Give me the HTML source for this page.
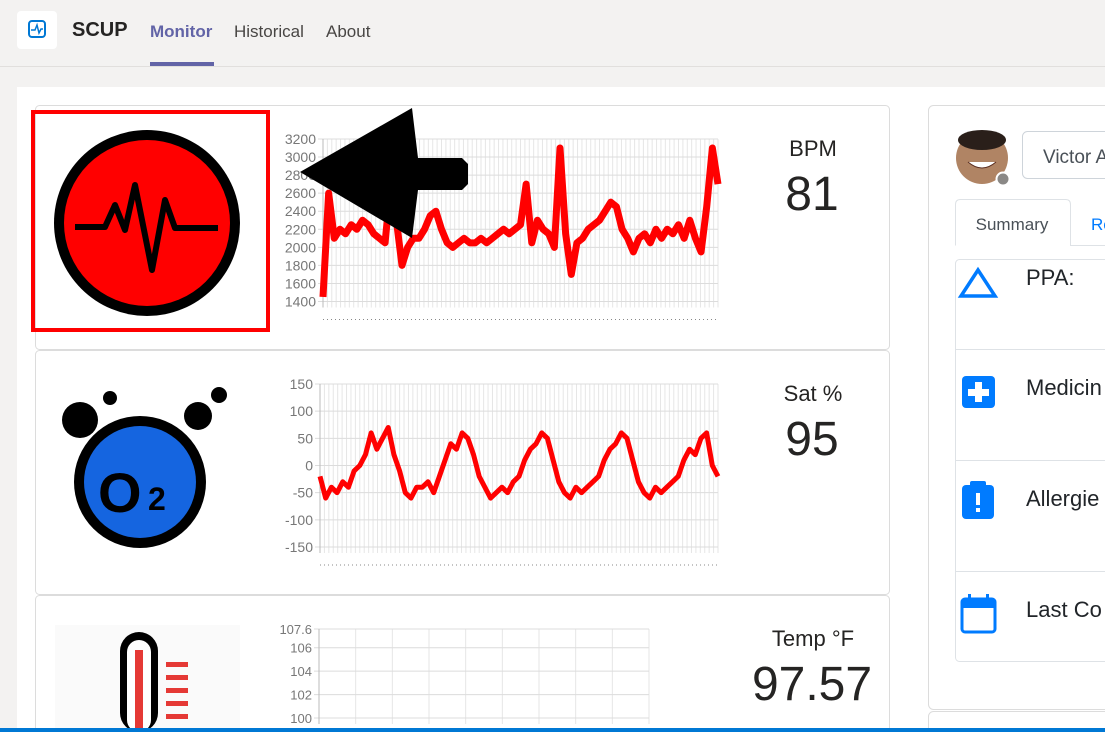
<!DOCTYPE html>
<html><head><meta charset="utf-8"><style>
html,body{margin:0;padding:0;width:1105px;height:732px;overflow:hidden;background:#f3f2f1;font-family:"Liberation Sans",sans-serif}
svg{display:block}
</style></head><body>
<svg id="s" width="1105" height="732" viewBox="0 0 1105 732" xmlns="http://www.w3.org/2000/svg" font-family="Liberation Sans, sans-serif">
<g>
<rect x="0" y="0" width="1105" height="66" fill="#f3f2f1"/>
<line x1="0" y1="66.5" x2="1105" y2="66.5" stroke="#e1dfdd"/>
<rect x="17" y="11" width="40" height="38" rx="4" fill="#fff"/>
<rect x="29" y="21" width="16" height="16" rx="3" fill="none" stroke="#0078d4" stroke-width="2"/>
<polyline points="31,30 35,30 37,25 39,33 41,29 43,29" fill="none" stroke="#0078d4" stroke-width="1.5"/>
<text x="72" y="36" font-size="20" font-weight="bold" fill="#252423">SCUP</text>
<text x="150" y="37" font-size="17" font-weight="bold" fill="#6264a7">Monitor</text>
<rect x="150" y="62" width="64" height="4" fill="#6264a7"/>
<text x="234" y="37" font-size="17" fill="#484644">Historical</text>
<text x="326" y="37" font-size="17" fill="#484644">About</text>
</g>
<rect x="17" y="87" width="1088" height="645" fill="#fff"/>
<rect x="35.5" y="105.5" width="854" height="244" rx="4" fill="#fff" stroke="#dcdcdc"/>
<rect x="35.5" y="350.5" width="854" height="244" rx="4" fill="#fff" stroke="#dcdcdc"/>
<rect x="35.5" y="595.5" width="854" height="150" rx="4" fill="#fff" stroke="#dcdcdc"/>
<g>
<circle cx="147" cy="223" r="93" fill="#000"/>
<circle cx="147" cy="223" r="83" fill="#ff0000"/>
<polyline points="75,227 105,227 115,205 125,230 135,185 152,270 165,200 175,228 218,228" fill="none" stroke="#000" stroke-width="6" stroke-linejoin="round"/>
</g>
<rect x="33" y="112" width="235" height="218" fill="none" stroke="#ff0000" stroke-width="4"/>
<g>
<circle cx="140" cy="482" r="66" fill="#000"/>
<circle cx="140" cy="482" r="56" fill="#1565e0"/>
<circle cx="80" cy="420" r="18" fill="#000"/><circle cx="110" cy="398" r="7" fill="#000"/>
<circle cx="198" cy="416" r="14" fill="#000"/><circle cx="219" cy="395" r="8" fill="#000"/>
<text x="98" y="512" font-size="56" font-weight="bold" fill="#000">O</text>
<text x="148" y="510" font-size="32" font-weight="bold" fill="#000">2</text>
</g>
<g>
<rect x="55" y="625" width="185" height="105" fill="#fafafa"/>
<rect x="120" y="632" width="38" height="100" rx="19" fill="#000"/>
<rect x="127" y="640" width="24" height="92" rx="12" fill="#fff"/>
<rect x="135" y="650" width="8" height="82" fill="#e53935"/>
<rect x="166" y="662" width="22" height="5" fill="#e53935"/><rect x="166" y="675" width="22" height="5" fill="#e53935"/><rect x="166" y="688" width="22" height="5" fill="#e53935"/><rect x="166" y="701" width="22" height="5" fill="#e53935"/><rect x="166" y="714" width="22" height="5" fill="#e53935"/>
</g>
<g id="charts"></g>
<g>
<polygon points="300,172 412,108 418,158 462,158 468,164 468,184 462,190 418,190 412,238" fill="#000"/>
</g>
<text x="813" y="156" font-size="22" fill="#252423" text-anchor="middle">BPM</text>
<text x="812" y="210" font-size="48" fill="#252423" text-anchor="middle">81</text>
<text x="813" y="401" font-size="22" fill="#252423" text-anchor="middle">Sat %</text>
<text x="812" y="455" font-size="48" fill="#252423" text-anchor="middle">95</text>
<text x="813" y="646" font-size="22" fill="#252423" text-anchor="middle">Temp °F</text>
<text x="812" y="700" font-size="48" fill="#252423" text-anchor="middle">97.57</text>
<g>
<rect x="928.5" y="105.5" width="190" height="604" rx="5" fill="#fff" stroke="#dcdcdc"/>
<rect x="928.5" y="711.5" width="190" height="30" rx="5" fill="#fff" stroke="#dcdcdc"/>
<circle cx="982" cy="158" r="26" fill="#b08464"/>
<ellipse cx="982" cy="140" rx="24" ry="10" fill="#2a1f1a"/>
<path d="M968,162 Q982,174 996,162" fill="#fff" stroke="#5a2e20"/>
<circle cx="1003" cy="179" r="6.5" fill="#8a8886" stroke="#fff" stroke-width="2"/>
<rect x="1022.5" y="131.5" width="100" height="47" rx="5" fill="#fff" stroke="#ced4da"/>
<text x="1043" y="163" font-size="19" fill="#495057">Victor A</text>
<path d="M955.5,245.5 V204.5 Q955.5,199.5 960.5,199.5 H1065.5 Q1070.5,199.5 1070.5,204.5 V245.5 H1105" fill="#fff" stroke="#dee2e6"/>
<text x="1012" y="230" font-size="17" fill="#495057" text-anchor="middle">Summary</text>
<text x="1091" y="230" font-size="17" fill="#007bff">Re</text>
<rect x="955.5" y="259.5" width="160" height="402" rx="4" fill="#fff" stroke="#dee2e6"/>
<line x1="956" y1="349.5" x2="1105" y2="349.5" stroke="#dee2e6"/>
<line x1="956" y1="460.5" x2="1105" y2="460.5" stroke="#dee2e6"/>
<line x1="956" y1="571.5" x2="1105" y2="571.5" stroke="#dee2e6"/>
<polygon points="978,270 995,296 961,296" fill="none" stroke="#007bff" stroke-width="3.5"/>
<text x="1026" y="285" font-size="22" fill="#212529">PPA:</text>
<rect x="962" y="376" width="33" height="32" rx="4" fill="#007bff"/>
<rect x="975" y="382" width="7" height="20" fill="#fff"/><rect x="968" y="389" width="21" height="7" fill="#fff"/>
<text x="1026" y="395" font-size="22" fill="#212529">Medicin</text>
<rect x="962" y="485" width="32" height="34" rx="4" fill="#007bff"/>
<rect x="970" y="481" width="16" height="7" rx="2" fill="#007bff"/>
<rect x="976" y="493" width="4" height="12" fill="#fff"/><rect x="976" y="508" width="4" height="4" fill="#fff"/>
<text x="1026" y="506" font-size="22" fill="#212529">Allergie</text>
<rect x="962" y="599" width="33" height="33" rx="3" fill="none" stroke="#007bff" stroke-width="3"/>
<rect x="962" y="599" width="33" height="9" fill="#007bff"/>
<rect x="968" y="594" width="3" height="8" fill="#007bff"/><rect x="986" y="594" width="3" height="8" fill="#007bff"/>
<text x="1026" y="617" font-size="22" fill="#212529">Last Co</text>
</g>
<rect x="0" y="728" width="1105" height="4" fill="#0078d4"/>
</svg>
<script>
const bpmValues=[1450,2600,2100,2200,2150,2250,2200,2300,2250,2150,2100,2050,2700,2300,1800,2000,2100,2100,2200,2350,2400,2200,2050,2000,2050,2100,2050,2050,2100,2050,2100,2150,2200,2150,2200,2250,2700,2050,2300,2200,2150,2000,3100,2150,1700,2050,2100,2200,2250,2300,2400,2500,2450,2200,2100,1950,2100,2150,2050,2200,2100,2200,2150,2250,2100,2300,2100,1950,2450,3100,2700];
const bpmTicks=[1400,1600,1800,2000,2200,2400,2600,2800,3000,3200];
const satValues=[-20,-60,-40,-50,-30,-40,-10,0,20,60,30,50,70,20,-10,-50,-60,-40,-40,-30,-50,-20,10,40,30,60,50,20,-20,-40,-60,-50,-40,-50,-30,-20,10,30,40,60,50,10,-30,-50,-60,-40,-50,-40,-30,-20,10,30,40,60,50,10,-30,-50,-60,-40,-50,-40,-30,-20,10,30,20,50,60,0,-20];
const satTicks=[-150,-100,-50,0,50,100,150];
const tempValues=[];
const tempTicks=[100,102,104,106,107.6];
const NS='http://www.w3.org/2000/svg';
const g=document.getElementById('charts');
function mk(t,a){const e=document.createElementNS(NS,t);for(const k in a)e.setAttribute(k,a[k]);g.appendChild(e);return e;}
function chart(name,vals,ticks,x0,x1,yTop,yBot,vmin,vmax,nV,fs,lw){
 const ys=v=>yBot-(v-vmin)/(vmax-vmin)*(yBot-yTop);
 const xs=i=>x0+i*(x1-x0)/Math.max(1,vals.length-1);
 for(let i=0;i<=nV;i++){const x=x0+i*(x1-x0)/nV;const l=mk('line',{x1:x,x2:x,y1:yTop,y2:yBot+6,stroke:'#e6e6e6'});
 }
 ticks.forEach(t=>{const y=ys(t);const l=mk('line',{x1:x0-5,x2:x1,y1:y,y2:y,stroke:'#dcdcdc'});
 
 const tx=mk('text',{x:x0-7,y:y+5,'font-size':fs,fill:'#777','text-anchor':'end'});tx.textContent=t;
 });
 const ax=mk('line',{x1:x0,x2:x0,y1:yTop,y2:yBot+6,stroke:'#bbb'});
 
 if(vals.length){
 const d=mk('line',{x1:x0,x2:x1,y1:yBot+18,y2:yBot+18,stroke:'#888','stroke-dasharray':'1,3'});
 
 const p=mk('polyline',{points:vals.map((v,i)=>xs(i)+','+ys(v)).join(' '),fill:'none',stroke:'#ff0000','stroke-width':lw,'stroke-linejoin':'round'});
 }
}
chart('bpm-chart',bpmValues,bpmTicks,323,718,139,301.5,1400,3200,90,14,7);
chart('sat-chart',satValues,satTicks,320,718,384,547,-150,150,90,14,5);
chart('temp-chart',tempValues,tempTicks,319,649,629,718,100,107.6,9,13,3);
</script>
</body></html>
